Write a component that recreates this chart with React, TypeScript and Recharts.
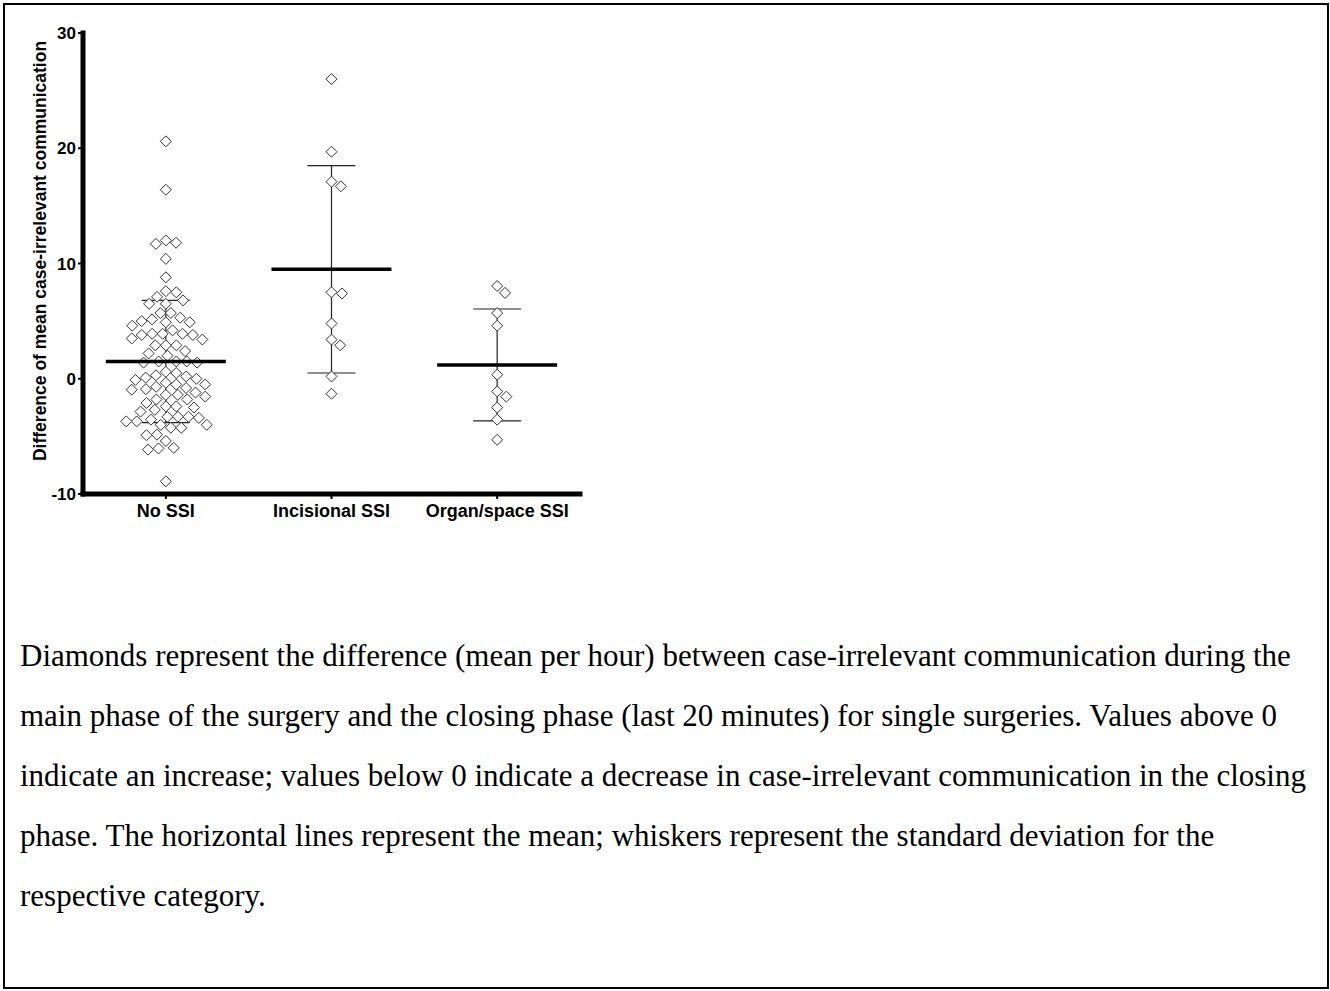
import React from 'react';
import { ScatterChart, Scatter, XAxis, YAxis, ErrorBar } from 'recharts';

// values (difference per hour)
const CATEGORIES = ['No SSI', 'Incisional SSI', 'Organ/space SSI'];

const NO_SSI = [
  20.6, 16.4, 12.0, 11.7, 11.8, 10.4, 8.8, 7.6, 7.5, 7.1, 6.8, 6.5, 6.5, 5.7, 5.7,
  5.3, 5.15, 5.0, 4.9, 4.9, 4.6, 4.2, 3.9, 3.8, 3.9, 3.8, 3.9, 3.5, 3.4, 2.9, 2.9,
  2.9, 2.4, 2.2, 2.0, 1.5, 1.4, 1.4, 1.5, 1.5, 0.6, 0.3, 0.5, 0.2,
  -0.1, -0.5, 0.1, -0.35, 0.0, -0.8, -0.95, -0.9, -0.7, -0.5, -1.4, -1.55, -1.8,
  -2.4, -2.7, -2.5, -2.4, -2.1, -1.8, -1.4, -1.2, -2.85, -3.3, -3.55, -3.4, -3.3,
  -3.3, -3.7, -4.0, -4.25, -4.25, -4.0, -3.7, -4.85, -5.4, -4.9, -6.05, -6.15, -6.0,
  -8.9,
];
const INCISIONAL = [26.0, 19.7, 17.1, 16.7, 7.4, 7.5, 4.8, 2.9, 3.4, 0.2, -1.3];
const ORGAN_SPACE = [8.05, 7.45, 5.7, 4.6, 0.35, -1.1, -1.55, -2.5, -3.55, -5.3];

const MEANS = [1.5, 9.5, 1.2];
const SDS = [5.3, 9.0, 4.85];

const Y_TICKS = [-10, 0, 10, 20, 30];
const X_TICKS = [1, 2, 3];

const CAPTION = [
  'Diamonds represent the difference (mean per hour) between case-irrelevant communication during the',
  'main phase of the surgery and the closing phase (last 20 minutes) for single surgeries. Values above 0',
  'indicate an increase; values below 0 indicate a decrease in case-irrelevant communication in the closing',
  'phase. The horizontal lines represent the mean; whiskers represent the standard deviation for the',
  'respective category.',
];

const FONT = '"Liberation Sans", Arial, sans-serif';

// plot geometry, used for the swarm layout
const PLOT_LEFT = 83;
const PLOT_RIGHT = 580;
const PLOT_TOP = 33;
const PLOT_BOTTOM = 494;
const PX_PER_X = (PLOT_RIGHT - PLOT_LEFT) / 3;
const PX_PER_Y = (PLOT_BOTTOM - PLOT_TOP) / 40;
const DOT = 5.5;
const GAP = 10.5;

// simple beeswarm: each point takes the free spot closest to the category centre
function swarm(values: number[], cat: number) {
  const sorted = [...values].sort((a, b) => b - a);
  const placed: { x: number; y: number }[] = [];
  return sorted.map((v) => {
    const py = v * PX_PER_Y;
    const near = placed.filter((q) => Math.abs(q.y - py) < GAP);
    const cands = [0];
    near.forEach((q) => {
      const w = Math.sqrt(GAP * GAP - (q.y - py) ** 2);
      cands.push(q.x + w, q.x - w);
    });
    cands.sort((a, b) => Math.abs(a) - Math.abs(b));
    const px =
      cands.find((c) => near.every((q) => (q.x - c) ** 2 + (q.y - py) ** 2 >= GAP * GAP - 1e-6)) ?? 0;
    placed.push({ x: px, y: py });
    return { x: cat + px / PX_PER_X, y: v };
  });
}

const Diamond = (props: any) => {
  const { cx, cy } = props;
  if (cx == null || cy == null) return null;
  const pts = `${cx},${cy - DOT} ${cx + DOT},${cy} ${cx},${cy + DOT} ${cx - DOT},${cy}`;
  return <polygon points={pts} fill="#fff" stroke="#333" strokeWidth={1} />;
};

const MeanLine = (props: any) => {
  const { cx, cy } = props;
  if (cx == null || cy == null) return null;
  return <line x1={cx - 60} x2={cx + 60} y1={cy} y2={cy} stroke="#000" strokeWidth={3.5} />;
};

export default function App() {
  const groups = [NO_SSI, INCISIONAL, ORGAN_SPACE].map((vals, i) => swarm(vals, i + 1));
  const meanData = MEANS.map((m, i) => ({ x: i + 1, y: m, sd: SDS[i] }));
  const yTickStyle = { fill: '#000', fontSize: 17, fontWeight: 'bold', fontFamily: FONT };
  const xTickStyle = { fill: '#000', fontSize: 18, fontWeight: 'bold', fontFamily: FONT };

  return (
    <div style={{ position: 'absolute', left: 0, top: 0, width: 1330, height: 991, background: '#fff' }}>
      <div
        style={{
          position: 'absolute',
          left: 3,
          top: 3,
          width: 1326,
          height: 986,
          boxSizing: 'border-box',
          border: '2px solid #000',
        }}
      />
      <div style={{ position: 'absolute', left: 0, top: 0 }}>
        <ScatterChart width={600} height={540} margin={{ top: PLOT_TOP, right: 600 - PLOT_RIGHT, bottom: 6, left: 0 }}>
          <XAxis
            type="number"
            dataKey="x"
            domain={[0.5, 3.5]}
            ticks={X_TICKS}
            tickFormatter={(v: number) => CATEGORIES[v - 1]}
            height={40}
            tick={xTickStyle}
            tickSize={5}
            tickMargin={5}
            tickLine={{ stroke: '#000', strokeWidth: 2 }}
            axisLine={{ stroke: '#000', strokeWidth: 5, strokeLinecap: 'square' }}
            allowDataOverflow
          />
          <YAxis
            type="number"
            dataKey="y"
            domain={[-10, 30]}
            ticks={Y_TICKS}
            width={PLOT_LEFT}
            tick={yTickStyle}
            tickSize={5}
            tickLine={{ stroke: '#000', strokeWidth: 2 }}
            axisLine={{ stroke: '#000', strokeWidth: 5, strokeLinecap: 'square' }}
            allowDataOverflow
            label={{
              content: () => (
                <text
                  transform="translate(40,251) rotate(-90)"
                  textAnchor="middle"
                  dominantBaseline="central"
                  fontFamily={FONT}
                  fontWeight="bold"
                  fontSize={17.5}
                  fill="#000"
                >
                  Difference of mean case-irrelevant communication
                </text>
              ),
            }}
          />
          {groups.map((data, i) => (
            <Scatter key={CATEGORIES[i]} data={data} shape={<Diamond />} isAnimationActive={false} />
          ))}
          <Scatter data={meanData} shape={<MeanLine />} isAnimationActive={false}>
            <ErrorBar dataKey="sd" direction="y" width={24} stroke="#222" strokeWidth={1.2} />
          </Scatter>
        </ScatterChart>
      </div>
      <div
        style={{
          position: 'absolute',
          left: 20,
          top: 626,
          fontFamily: '"Liberation Serif", "Times New Roman", serif',
          fontSize: 31,
          lineHeight: '60px',
          color: '#000',
          whiteSpace: 'nowrap',
        }}
      >
        {CAPTION.map((line) => (
          <div key={line}>{line}</div>
        ))}
      </div>
    </div>
  );
}
